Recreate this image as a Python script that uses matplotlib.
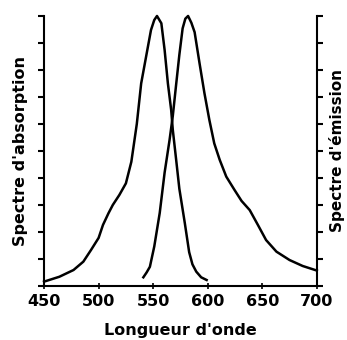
import numpy as np
import matplotlib
matplotlib.use("Agg")
import matplotlib.pyplot as plt

plt.rcParams['font.family'] = ['DejaVu Sans']
plt.rcParams['font.weight'] = 'bold'

# spectre d'absorption
abs_nm = [450, 464, 477, 486, 493, 500, 504, 509, 513, 519, 525, 530, 535, 539,
          544, 548, 551, 553.5, 557.5, 560.5, 563.5, 566.5, 568, 571, 574, 579,
          583, 586, 589.5, 594, 599]
abs_val = [0.016, 0.034, 0.059, 0.09, 0.133, 0.178, 0.226, 0.269, 0.30, 0.337,
           0.38, 0.46, 0.60, 0.75, 0.86, 0.948, 0.985, 1.0, 0.973, 0.874, 0.75,
           0.652, 0.578, 0.47, 0.36, 0.233, 0.125, 0.08, 0.053, 0.032, 0.022]

# spectre d'émission
em_nm = [541, 544, 547, 551, 556, 560.5, 565, 568, 571, 574, 577, 579.5, 582, 585,
         588, 592.5, 597, 601.5, 606, 611, 617, 624.5, 631, 638.5, 646, 653.5, 663,
         675, 687, 700]
em_val = [0.032, 0.05, 0.071, 0.146, 0.27, 0.42, 0.54, 0.63, 0.744, 0.856, 0.954,
          0.99, 1.0, 0.975, 0.94, 0.825, 0.714, 0.615, 0.528, 0.467, 0.405, 0.356,
          0.315, 0.281, 0.226, 0.17, 0.127, 0.096, 0.074, 0.057]

x_ticks = [450, 500, 550, 600, 650, 700]

fig = plt.figure(figsize=(3.47, 3.40), dpi=100)
ax = fig.add_axes([0.127, 0.159, 0.786, 0.794])

ax.plot(abs_nm, abs_val, color='black', linewidth=1.8, clip_on=False,
        solid_joinstyle='round')
ax.plot(em_nm, em_val, color='black', linewidth=1.8, clip_on=False,
        solid_joinstyle='round')

ax.set_xlim(450, 700)
ax.set_ylim(0, 1.0)
ax.set_xticks(x_ticks)
ax.set_yticks(np.arange(0, 1.01, 0.1))
ax.set_yticklabels([])

ax.spines['top'].set_visible(False)
for s in ['left', 'right', 'bottom']:
    ax.spines[s].set_linewidth(1.5)

ax.tick_params(axis='x', direction='inout', length=5, width=1.2, labelsize=11.5, pad=3)
ax.tick_params(axis='y', direction='out', length=4, width=1.5, left=True, right=True,
               labelright=False)

fig.text(0.058, 0.556, "Spectre d'absorption", rotation=90, ha='center', va='center',
         fontsize=11.5, fontweight='bold')
fig.text(0.970, 0.556, "Spectre d'émission", rotation=90, ha='center', va='center',
         fontsize=11, fontweight='bold')
fig.text(0.52, 0.016, "Longueur d'onde", ha='center', va='baseline',
         fontsize=11.5, fontweight='bold')

fig.savefig('out.png', dpi=100)
